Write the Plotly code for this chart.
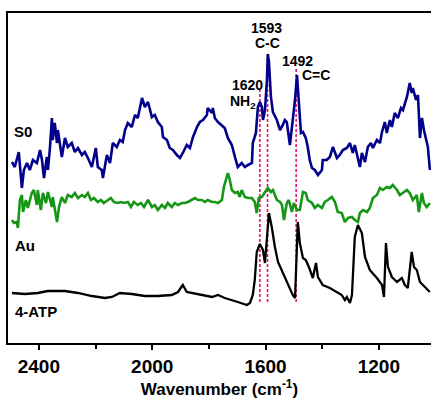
import plotly.graph_objects as go

# Wavenumber (cm^-1) and intensity (a.u., offset stacked)
s0_wn = [2495, 2485, 2471, 2460, 2453, 2442, 2432, 2421, 2407, 2396, 2389, 2382, 2372, 2368, 2361, 2354, 2351, 2344, 2336, 2333,
         2319, 2308, 2298, 2284, 2273, 2262, 2248, 2238, 2227, 2213, 2199, 2192, 2178, 2174, 2160, 2149, 2139, 2125, 2114, 2104,
         2096, 2086, 2072, 2061, 2051, 2036, 2026, 2015, 2001, 1991, 1980, 1966, 1962, 1948, 1938, 1927, 1913, 1902, 1892, 1878,
         1867, 1856, 1842, 1832, 1821, 1807, 1804, 1789, 1786, 1779, 1768, 1754, 1744, 1733, 1719, 1708, 1698, 1684, 1673, 1662,
         1648, 1645, 1634, 1627, 1620, 1613, 1609, 1602, 1595, 1592, 1588, 1581, 1574, 1560, 1549, 1539, 1532, 1525, 1514, 1504,
         1496, 1489, 1482, 1475, 1468, 1458, 1451, 1444, 1436, 1426, 1415, 1401, 1398, 1384, 1373, 1362, 1348, 1338, 1327, 1313,
         1302, 1292, 1285, 1274, 1267, 1260, 1249, 1239, 1228, 1221, 1207, 1196, 1189, 1179, 1172, 1161, 1154, 1144, 1133, 1122,
         1115, 1101, 1091, 1084, 1080, 1069, 1062, 1055, 1048, 1041, 1027, 1020]
s0_int = [181, 176, 191, 155, 173, 180, 173, 183, 180, 193, 183, 165, 186, 173, 195, 225, 203, 220, 200, 213,
          186, 205, 196, 200, 191, 195, 188, 191, 185, 176, 195, 176, 173, 165, 188, 180, 200, 196, 203, 201,
          213, 220, 216, 228, 225, 245, 236, 241, 226, 228, 221, 216, 206, 203, 195, 193, 188, 185, 190, 198,
          195, 206, 216, 221, 223, 228, 235, 230, 235, 225, 221, 218, 215, 205, 198, 186, 176, 180, 176, 178,
          180, 200, 210, 236, 241, 236, 223, 233, 263, 289, 281, 246, 231, 223, 213, 218, 223, 221, 198, 223,
          243, 268, 240, 210, 211, 205, 196, 183, 175, 173, 168, 173, 183, 183, 186, 196, 185, 188, 193, 195,
          200, 190, 198, 183, 176, 190, 181, 196, 200, 195, 203, 200, 211, 221, 210, 223, 216, 230, 225, 235,
          233, 246, 260, 250, 255, 243, 248, 205, 225, 213, 196, 173]

au_wn = [2495, 2488, 2478, 2474, 2467, 2460, 2456, 2446, 2439, 2425, 2418, 2407, 2404, 2393, 2386, 2375, 2368, 2354, 2351, 2336,
         2329, 2319, 2308, 2298, 2284, 2273, 2262, 2248, 2238, 2227, 2216, 2206, 2192, 2181, 2171, 2156, 2146, 2135, 2121, 2111,
         2100, 2086, 2075, 2065, 2051, 2040, 2029, 2015, 2001, 1991, 1980, 1966, 1955, 1945, 1931, 1920, 1909, 1895, 1885, 1874,
         1860, 1849, 1839, 1825, 1814, 1804, 1789, 1779, 1768, 1754, 1747, 1736, 1733, 1726, 1719, 1708, 1698, 1691, 1684, 1673,
         1662, 1648, 1638, 1631, 1624, 1613, 1602, 1592, 1581, 1574, 1560, 1549, 1542, 1535, 1525, 1518, 1507, 1500, 1489, 1479,
         1468, 1458, 1451, 1436, 1426, 1415, 1401, 1391, 1380, 1366, 1355, 1345, 1331, 1320, 1309, 1295, 1285, 1274, 1267, 1256,
         1242, 1232, 1221, 1207, 1196, 1186, 1172, 1161, 1151, 1136, 1126, 1115, 1101, 1091, 1080, 1066, 1059, 1048, 1041, 1031,
         1020]
au_int = [123, 120, 121, 115, 143, 148, 131, 143, 135, 150, 153, 138, 153, 133, 150, 140, 151, 136, 146, 121,
          136, 146, 140, 148, 146, 150, 145, 148, 146, 150, 143, 145, 141, 143, 140, 143, 145, 141, 140, 141,
          140, 141, 136, 141, 138, 140, 136, 143, 136, 138, 133, 138, 135, 140, 136, 140, 138, 140, 140, 141,
          143, 145, 143, 143, 141, 143, 141, 141, 140, 143, 156, 166, 170, 163, 153, 150, 151, 146, 153, 146,
          145, 145, 141, 130, 145, 146, 151, 155, 151, 153, 143, 141, 138, 123, 140, 143, 131, 140, 133, 133,
          151, 150, 143, 140, 135, 138, 135, 141, 143, 146, 141, 131, 130, 121, 125, 126, 123, 121, 130, 133,
          131, 135, 145, 148, 155, 153, 156, 155, 158, 153, 148, 150, 153, 150, 143, 148, 131, 150, 140, 136,
          140]

atp_wn = [2495, 2449, 2404, 2368, 2308, 2262, 2213, 2167, 2142, 2114, 2072, 2026, 1980, 1931, 1909, 1892, 1878, 1860, 1825, 1789,
          1768, 1744, 1698, 1666, 1655, 1645, 1638, 1631, 1620, 1609, 1602, 1595, 1588, 1578, 1567, 1556, 1539, 1521, 1504, 1496,
          1489, 1486, 1479, 1468, 1458, 1447, 1433, 1422, 1415, 1398, 1373, 1348, 1331, 1320, 1313, 1302, 1295, 1285, 1274, 1260,
          1249, 1232, 1207, 1189, 1182, 1175, 1168, 1154, 1136, 1119, 1108, 1098, 1084, 1076, 1066, 1055, 1038, 1020]
atp_int = [50, 49, 50, 52, 52, 50, 47, 45, 46, 50, 49, 47, 47, 48, 51, 58, 51, 50, 48, 46,
           48, 45, 41, 38, 40, 48, 63, 91, 99, 93, 80, 106, 130, 116, 96, 81, 70, 60, 48, 45,
           103, 121, 100, 85, 83, 76, 65, 80, 66, 58, 55, 51, 48, 43, 46, 40, 48, 106, 118, 110,
           86, 73, 65, 58, 46, 100, 76, 66, 61, 65, 58, 55, 91, 76, 73, 61, 56, 51]

peak_wn = [1620, 1593, 1492]
peak_top = [253, 288, 275]
peak_bottom = 41

tick_vals = [2400, 2000, 1600, 1200]
minor_vals = [2200, 1800, 1400]

NAVY = "#00008C"
GREEN = "#159615"
PINK = "#E3176A"
FONT = "Arial, Liberation Sans, sans-serif"

fig = go.Figure()
for wn, top in zip(peak_wn, peak_top):
    fig.add_trace(go.Scatter(x=[wn, wn], y=[peak_bottom, top], mode="lines",
                             line=dict(color=PINK, width=1.6, dash="3px,2px"), hoverinfo="skip"))
fig.add_trace(go.Scatter(x=atp_wn, y=atp_int, mode="lines", line=dict(color="black", width=2.3)))
fig.add_trace(go.Scatter(x=au_wn, y=au_int, mode="lines", line=dict(color=GREEN, width=2.6)))
fig.add_trace(go.Scatter(x=s0_wn, y=s0_int, mode="lines", line=dict(color=NAVY, width=2.6)))

ann = [
    ("1593", 1595, 315, "center"), ("C-C", 1592, 300, "center"),
    ("1620", 1662, 258, "center"), ("NH<sub>2</sub>", 1680, 241, "center"),
    ("1492", 1486, 282, "center"), ("C=C", 1422, 268, "center"),
]
for t, x, y, xa in ann:
    fig.add_annotation(x=x, y=y, text=t, showarrow=False, xanchor=xa, yanchor="middle",
                       font=dict(family=FONT, size=14, color="black", weight="bold"))
for t, x, y in [("S0", 2495, 212), ("Au", 2493, 98), ("4-ATP", 2493, 32)]:
    fig.add_annotation(x=x, y=y, text=t, showarrow=False, xanchor="left", yanchor="middle",
                       font=dict(family=FONT, size=15, color="black", weight="bold"))

fig.update_layout(
    width=431, height=401, showlegend=False,
    margin=dict(l=8, r=0, t=13, b=58),
    paper_bgcolor="white", plot_bgcolor="white",
    xaxis=dict(range=[2509, 1016], tickvals=tick_vals, ticks="outside", ticklen=5, tickwidth=1.5,
               tickcolor="black", showline=True, linecolor="black", linewidth=1.5, mirror=True,
               showgrid=False, zeroline=False,
               minor=dict(tickvals=minor_vals, ticks="outside", ticklen=4, tickwidth=1.5, tickcolor="black"),
               tickfont=dict(family=FONT, size=19, color="black", weight="bold"),
               title=dict(text="Wavenumber (cm<sup>-1</sup>)", standoff=5,
                          font=dict(family=FONT, size=17, color="black", weight="bold"))),
    yaxis=dict(range=[0, 330], showticklabels=False, ticks="", showgrid=False, zeroline=False,
               showline=True, linecolor="black", linewidth=1.5, mirror=False),
)
fig.write_html("out.html")
